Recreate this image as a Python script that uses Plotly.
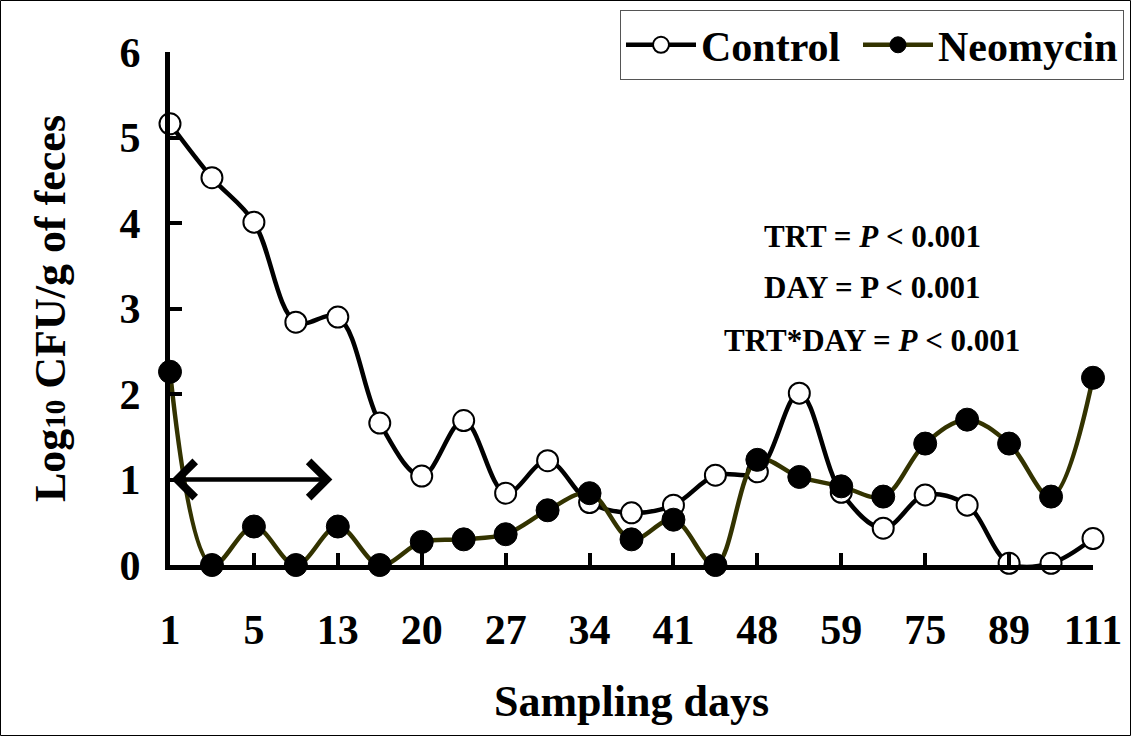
import plotly.graph_objects as go

# ---- data ----
days_labels = ["1", "5", "13", "20", "27", "34", "41", "48", "59", "75", "89", "111"]
n_points = 23
control = [5.16, 4.53, 4.01, 2.84, 2.90, 1.66, 1.04, 1.69, 0.84, 1.22, 0.73, 0.61,
           0.70, 1.05, 1.09, 2.01, 0.85, 0.43, 0.82, 0.70, 0.02, 0.02, 0.31]
neomycin = [2.26, 0.00, 0.45, 0.00, 0.45, 0.00, 0.27, 0.30, 0.36, 0.64, 0.84, 0.30,
            0.53, 0.00, 1.23, 1.03, 0.92, 0.80, 1.42, 1.70, 1.42, 0.80, 2.19]
stats_lines = ["TRT = <i>P</i> < 0.001", "DAY = P < 0.001", "TRT*DAY = <i>P</i> < 0.001"]
arrow_start, arrow_end, arrow_level = 0.0, 3.87, 1.0

x_idx = list(range(n_points))
tick_pos = list(range(0, n_points, 2))

FONT = "Liberation Serif, Times New Roman, serif"
W, H = 1131, 736
ML, MR, MT, MB = 170, 38, 52, 171
PW, PH = W - ML - MR, H - MT - MB

fig = go.Figure()
fig.add_trace(go.Scatter(
    x=x_idx, y=control, name="<b>Control</b>", mode="lines+markers",
    line=dict(color="black", width=4.5, shape="spline", smoothing=1),
    marker=dict(symbol="circle", size=21, color="white", line=dict(color="black", width=2)),
    cliponaxis=False, legendwidth=152,
))
fig.add_trace(go.Scatter(
    x=x_idx, y=neomycin, name="<b>Neomycin</b>", mode="lines+markers",
    line=dict(color="#333300", width=4.5, shape="spline", smoothing=1),
    marker=dict(symbol="circle", size=23, color="black", line=dict(color="black", width=1)),
    cliponaxis=False,
))

# statistics text
for txt, yy in zip(stats_lines, [236, 287, 340]):
    fig.add_annotation(
        x=(872 - ML) / PW, y=(H - MB - yy) / PH, xref="paper", yref="paper",
        text="<b>" + txt + "</b>", showarrow=False,
        font=dict(family=FONT, size=31, color="black"),
        xanchor="center", yanchor="middle",
    )

# double-headed arrow
fig.add_annotation(
    x=arrow_end, y=arrow_level, ax=arrow_start, ay=arrow_level,
    xref="x", yref="y", axref="x", ayref="y", text="",
    showarrow=True, arrowside="end+start",
    arrowhead=4, startarrowhead=4, arrowsize=1.55, startarrowsize=1.55,
    arrowwidth=4.5, arrowcolor="black",
)

# outer border
fig.add_shape(
    type="rect", xref="paper", yref="paper",
    x0=(0.5 - ML) / PW, x1=(W - 0.5 - ML) / PW,
    y0=-(MB - 0.5) / PH, y1=(H - MB - 0.5) / PH,
    line=dict(color="black", width=1), fillcolor="rgba(0,0,0,0)", layer="below",
)

fig.update_layout(
    width=W, height=H,
    margin=dict(l=ML, r=MR, t=MT, b=MB, autoexpand=False),
    paper_bgcolor="white", plot_bgcolor="white",
    font=dict(family=FONT, color="black"),
    showlegend=True,
    legend=dict(
        orientation="h", x=(620 - ML) / PW, y=(H - MB - 10) / PH,
        xanchor="left", yanchor="top",
        font=dict(family=FONT, size=42, color="black"),
        bordercolor="#555555", borderwidth=1, bgcolor="white",
        itemwidth=70,
    ),
)
fig.update_xaxes(
    range=[0, n_points - 1], showgrid=False, zeroline=False,
    showline=True, linecolor="black", linewidth=5,
    tickmode="array", tickvals=tick_pos, ticktext=["<b>%s</b>" % t for t in days_labels],
    ticks="inside", ticklen=12, tickwidth=4, tickcolor="black",
    tickfont=dict(family=FONT, size=42, color="black"),
    ticklabelstandoff=24,
    title=dict(text="<b>Sampling days</b>", font=dict(family=FONT, size=44, color="black"), standoff=34),
)
fig.update_yaxes(
    range=[0, 6], showgrid=False, zeroline=False,
    showline=True, linecolor="black", linewidth=5,
    tickmode="array", tickvals=[0, 1, 2, 3, 4, 5, 6], ticktext=["<b>%d</b>" % v for v in range(7)],
    ticks="inside", ticklen=12, tickwidth=4, tickcolor="black",
    tickfont=dict(family=FONT, size=42, color="black"),
    ticklabelstandoff=16,
    title=dict(text="<b>Log<span style='font-size:29px'>10</span> CFU/g of feces</b>",
               font=dict(family=FONT, size=44, color="black"), standoff=42),
)

fig.write_html("out.html")
